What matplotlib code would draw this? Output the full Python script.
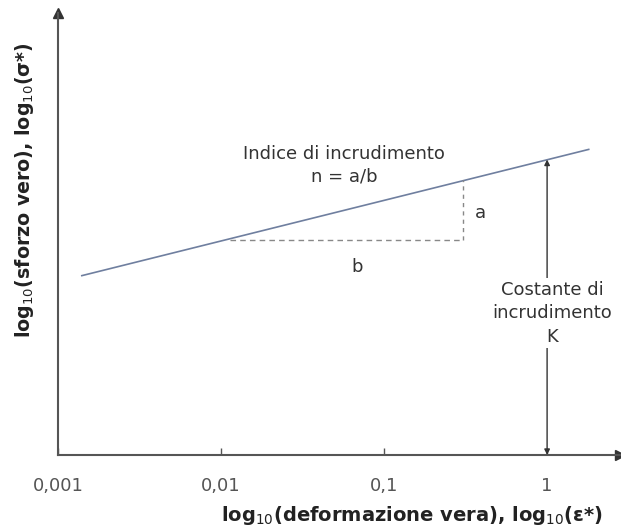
import matplotlib.pyplot as plt

plt.rcParams['font.family'] = ['DejaVu Sans']

# Retta di Hollomon sul piano log-log (unità arbitrarie per lo sforzo)
strain_line = [0.0014, 1.8]
stress_line = [12.6, 75.0]

# triangolo della pendenza: cateto b (orizzontale) e cateto a (verticale)
b_strain = [0.0113, 0.305]
b_stress = 20.8
a_stress = [20.8, 48.6]

# costante di incrudimento, letta a deformazione = 1
K_strain = 1.0
K_stress = 65.0

tick_pos = [0.001, 0.01, 0.1, 1]
tick_lbl = ['0,001', '0,01', '0,1', '1']

x_lim = (0.001, 2.8)
y_lim = (1.0, 515.0)

axis_col = '#555555'

fig = plt.figure(figsize=(6.21, 5.28), dpi=100)
ax = fig.add_axes([0.0934, 0.1383, 0.905, 0.837])
ax.set_xscale('log')
ax.set_yscale('log')
ax.set_xlim(*x_lim)
ax.set_ylim(*y_lim)

for s in ['top', 'right']:
    ax.spines[s].set_visible(False)
for s in ['left', 'bottom']:
    ax.spines[s].set_color(axis_col)
    ax.spines[s].set_linewidth(1.5)

# frecce in fondo agli assi
ax.plot(1, 0, marker='>', color='#333333', markersize=7, transform=ax.transAxes, clip_on=False)
ax.plot(0, 1, marker='^', color='#333333', markersize=7, transform=ax.transAxes, clip_on=False)

ax.set_xticks(tick_pos)
ax.set_xticklabels(tick_lbl)
ax.minorticks_off()
ax.set_yticks([])
ax.tick_params(axis='x', direction='in', length=5, width=1, color=axis_col,
               labelsize=13, labelcolor='#555555', pad=16)

ax.plot(strain_line, stress_line, color='#6f7f9f', lw=1.2)

ax.plot(b_strain, [b_stress, b_stress], color='#888888', lw=1, dashes=(4, 3))
ax.plot([b_strain[1], b_strain[1]], a_stress, color='#888888', lw=1, dashes=(3, 3))

ax.annotate('', xy=(K_strain, K_stress), xytext=(K_strain, y_lim[0]),
            arrowprops=dict(arrowstyle='<|-|>', color='#333333', lw=1,
                            mutation_scale=8, shrinkA=0, shrinkB=0))

txt = dict(fontsize=13, color='#333333', ha='center', va='center', transform=ax.transAxes)
ax.text(0.509, 0.656, 'Indice di incrudimento\nn = a/b', linespacing=1.35, **txt)
ax.text(0.751, 0.548, 'a', **txt)
ax.text(0.532, 0.425, 'b', **txt)
ax.text(0.879, 0.321, 'Costante di\nincrudimento\nK', linespacing=1.4, zorder=5,
        bbox=dict(facecolor='white', edgecolor='none', pad=2), **txt)

fig.text(0.040, 0.64, 'log$_{10}$(sforzo vero), log$_{10}$(σ*)', rotation=90,
         fontsize=13.7, fontweight='bold', color='#222222', ha='center', va='center')
fig.text(0.664, 0.0246, 'log$_{10}$(deformazione vera), log$_{10}$(ε*)',
         fontsize=14, fontweight='bold', color='#222222', ha='center', va='center')

fig.savefig('out.png', dpi=100)
